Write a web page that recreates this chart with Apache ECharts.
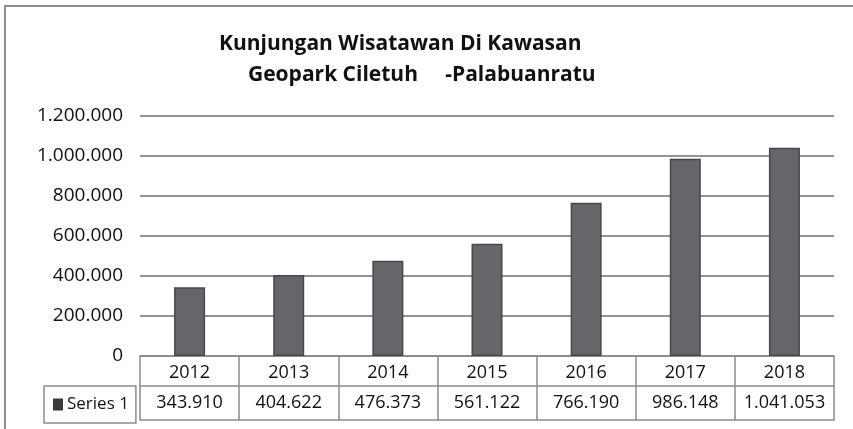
<!DOCTYPE html>
<html>
<head>
<meta charset="utf-8">
<script src="https://cdn.jsdelivr.net/npm/echarts@6/dist/echarts.min.js"></script>
<style>
    html, body { margin: 0; padding: 0; background: #fff; overflow: hidden; }
    #frame { position: absolute; left: 4px; top: 5px; width: 900px; height: 500px;
             border-left: 2px solid #8e8e8e; border-top: 2px solid #8e8e8e; }
    #chart { position: absolute; left: 0; top: 0; width: 853px; height: 429px; }
</style>
</head>
<body>
<div id="frame"></div>
<div id="chart"></div>
<script>
    // data
    const years = ['2012', '2013', '2014', '2015', '2016', '2017', '2018'];
    const visitors = [343910, 404622, 476373, 561122, 766190, 986148, 1041053];
    const seriesName = 'Series 1';
    const titleLine1 = 'Kunjungan Wisatawan Di Kawasan';
    const titleLine2 = 'Geopark Ciletuh     -Palabuanratu';

    // 1041053 -> 1.041.053
    const fmt = v => String(v).replace(/\B(?=(\d{3})+(?!\d))/g, '.');

    const lineColor = '#8c8c8c';
    const textColor = '#111';
    const font = '"Open Sans", sans-serif';

    const myChart = echarts.init(document.getElementById('chart'), null, { renderer: 'canvas' });

    let option = {
        backgroundColor: 'transparent',
        textStyle: { fontFamily: font },
        title: {
            text: '{a|' + titleLine1 + '}\n{b|' + titleLine2 + '}',
            left: 219,
            top: 29,
            padding: 0,
            textStyle: {
                rich: {
                    a: { fontFamily: font, fontSize: 21, fontWeight: 'bold', color: textColor, lineHeight: 31 },
                    b: { fontFamily: font, fontSize: 21, fontWeight: 'bold', color: textColor, lineHeight: 31, padding: [0, 0, 0, 29] }
                }
            }
        },
        legend: {
            data: [{ name: seriesName, icon: 'rect', itemStyle: { color: '#3b3b3b', borderWidth: 0 } }],
            left: 44,
            top: 386,
            padding: [10, 7, 10, 9],
            itemWidth: 10,
            itemHeight: 12,
            itemGap: 0,
            borderColor: lineColor,
            borderWidth: 1.5,
            textStyle: { fontFamily: font, fontSize: 17, color: textColor, padding: [2, 0, 0, -1] }
        },
        grid: {
            left: 140,
            right: 19,
            top: 116,
            bottom: 73
        },
        xAxis: [
            {
                type: 'category',
                data: years,
                position: 'bottom',
                axisLine: { show: true, lineStyle: { color: lineColor, width: 1.5 } },
                axisTick: { show: true, length: 64, lineStyle: { color: lineColor, width: 1.5 } },
                axisLabel: {
                    margin: 0,
                    interval: 0,
                    verticalAlign: 'top',
                    formatter: (v, i) => '{y|' + v + '}\n{v|' + fmt(visitors[i]) + '}',
                    rich: {
                        y: { fontFamily: font, fontSize: 18, color: textColor, lineHeight: 30, padding: [3, 0, 0, 0] },
                        v: { fontFamily: font, fontSize: 18, color: textColor, lineHeight: 34 }
                    }
                }
            },
            {
                type: 'category',
                data: years,
                position: 'bottom',
                offset: 30,
                axisLine: { show: true, lineStyle: { color: lineColor, width: 1.5 } },
                axisTick: { show: false },
                axisLabel: { show: false }
            },
            {
                type: 'category',
                data: years,
                position: 'bottom',
                offset: 64,
                axisLine: { show: true, lineStyle: { color: lineColor, width: 1.5 } },
                axisTick: { show: false },
                axisLabel: { show: false }
            }
        ],
        yAxis: {
            type: 'value',
            min: 0,
            max: 1200000,
            interval: 200000,
            axisLine: { show: false },
            axisTick: { show: false },
            splitLine: { lineStyle: { color: '#939393', width: 2 } },
            axisLabel: {
                margin: 17,
                fontFamily: font,
                fontSize: 19,
                color: textColor,
                formatter: v => fmt(v)
            }
        },
        series: [
            {
                name: seriesName,
                type: 'bar',
                xAxisIndex: 0,
                barWidth: 31,
                data: visitors,
                itemStyle: {
                    color: '#65666a',
                    borderColor: '#47484b',
                    borderWidth: 1.5
                }
            }
        ]
    };
    myChart.setOption(option);
</script>
</body>
</html>
